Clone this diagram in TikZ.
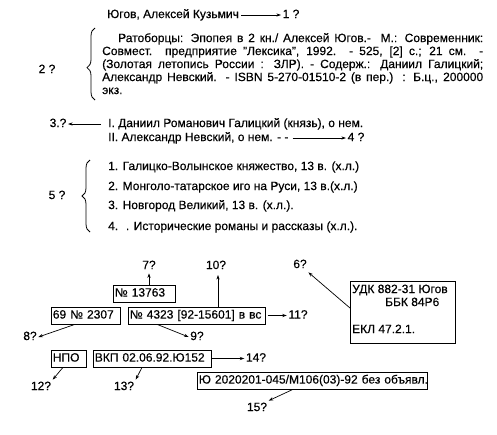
\documentclass[tikz,border=0pt]{standalone}
\usepackage{fontspec}
\setmainfont[FakeBold=0.4]{Liberation Sans}
\usetikzlibrary{arrows.meta,decorations.pathreplacing}
\begin{document}
\begin{tikzpicture}[x=1pt,y=-1pt,
  every node/.style={font=\fontsize{12}{14}\selectfont, text height=8.7pt, text depth=2.6pt, inner sep=0pt},
  txt/.style={anchor=west},
  lab/.style={inner sep=1.5pt},
  box/.style={draw, line width=0.7pt, anchor=west, inner xsep=1.5pt, inner ysep=0pt, minimum height=17pt, align=left},
  arr/.style={line width=0.7pt, -{Stealth[length=4.5pt,width=3.2pt]}},
  brc/.style={decorate, decoration={brace, amplitude=8pt}, line width=0.8pt}]
\useasboundingbox (0,0) rectangle (497,434);
% --- author heading
\node[txt] (t1) at (107,15) {Югов, Алексей Кузьмич};
\node[lab] (l1) at (291,15) {1 ?};
\draw[arr] ([xshift=2pt]t1.east) -- (l1.west);
% --- description paragraph
\node[txt] (p1) at (102,39) {\makebox[381pt][s]{\hspace*{16pt}Ратоборцы: Эпопея в 2 кн./ Алексей Югов.- \ М.: Современник:}};
\node[txt] (p2) at (102,52) {\makebox[381pt][s]{Совмест. предприятие "Лексика", 1992. - 525, [2] с.; 21 см. -}};
\node[txt] (p3) at (102,65) {\makebox[381pt][s]{(Золотая летопись России : ЗЛР). - Содерж.: Даниил Галицкий;}};
\node[txt] (p4) at (102,78) {\makebox[381pt][s]{Александр Невский. - ISBN 5-270-01510-2 (в пер.) : Б.ц., 200000}};
\node[txt] (p5) at (102,91) {экз.};
\draw[brc, decoration={aspect=0.45}] (95,100) -- (95,28);
\node[lab] (l2) at (47,70) {2 ?};
% --- subject headings
\node[txt] (hI) at (108,124) {I. Даниил Романович Галицкий (князь), о нем.};
\node[lab] (l3) at (58,124) {3.?};
\draw[arr] ([xshift=-7pt]hI.west) -- (l3.east);
\node[txt] (hII) at (108,138) {II. Александр Невский, о нем. - -};
\node[lab] (l4) at (356,138) {4 ?};
\draw[arr] ([xshift=4pt]hII.east) -- (l4.west);
\node[txt] (i1) at (108,167) {1. Галицко-Волынское княжество, 13 в. (х.л.)};
\node[txt] (i2) at (108,187) {2. Монголо-татарское иго на Руси, 13 в.(х.л.)};
\node[txt] (i3) at (108,206) {3. Новгород Великий, 13 в. (х.л.).};
\node[txt] (i4) at (108,227) {4. \ . Исторические романы и рассказы (х.л.).};
\draw[brc] (90,232) -- (90,160);
\node[lab] (l5) at (57,196) {5 ?};
% --- catalogue card numbers
\node[box, text width=59pt] (b13763) at (113,293.5) {\mbox{№ 13763}};
\node[box, text width=66pt] (b2307) at (51,315.5) {\mbox{69 № 2307}};
\node[box, text width=134pt] (b4323) at (128,315.5) {\mbox{№ 4323 [92-15601] в вс}};
\node[draw, line width=0.7pt, minimum width=105pt, minimum height=62pt, anchor=north west] (udk) at (350,281) {};
\node[txt] (u1) at (352,290) {УДК 882-31 Югов};
\node[txt] (u2) at (385,303) {ББК 84Р6};
\node[txt] (u3) at (352,330) {ЕКЛ 47.2.1.};
\node[box, text width=32pt] (bnpo) at (51,358.5) {\mbox{НПО}};
\node[box, text width=115pt] (bvkp) at (93,358.5) {\mbox{ВКП 02.06.92.Ю152}};
\node[box, text width=227pt] (bju) at (197,380.5) {\mbox{Ю 2020201-045/М106(03)-92 без объявл.}};
% --- question labels
\node[lab] (l7) at (149,266) {7?};
\node[lab] (l10) at (216,266) {10?};
\node[lab] (l6) at (300,265) {6?};
\node[lab] (l11) at (298,315.5) {11?};
\node[lab] (l8) at (30,337) {8?};
\node[lab] (l9) at (197,337) {9?};
\node[lab] (l14) at (256,358.5) {14?};
\node[lab] (l12) at (41,387) {12?};
\node[lab] (l13) at (124,387) {13?};
\node[lab] (l15) at (257,408) {15?};
% --- connectors
\draw[arr] (b13763.north -| l7) -- (l7.south);
\draw[arr] (b4323.north -| 218,0) -- (218,275);
\draw[arr] (udk.west |- 0,308) -- (l6.south east);
\draw[arr] ([xshift=2pt]b4323.east) -- (l11.west);
\draw[arr] (b2307.south -| 75,0) -- (l8.east);
\draw[arr] (b4323.south -| 157,0) -- (l9.west);
\draw[arr] (bvkp.east) -- (l14.west);
\draw[arr] (bnpo.south -| 63,0) -- (l12.north east);
\draw[arr] (bvkp.south -| 142,0) -- (l13.north east);
\draw[arr] (bju.south -| 293,0) -- (l15.north east);
\end{tikzpicture}
\end{document}
